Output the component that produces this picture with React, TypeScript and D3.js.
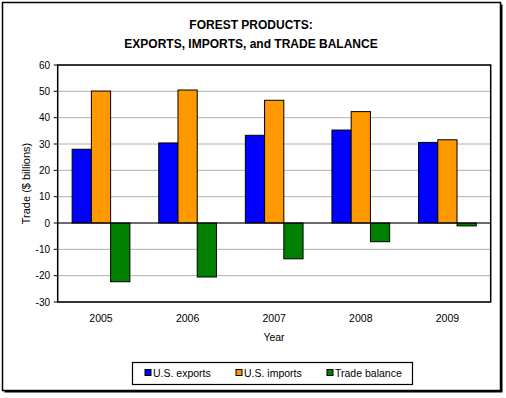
import React from "react";
import * as d3 from "d3";

const years = ["2005", "2006", "2007", "2008", "2009"];
const exportsVals = [28.0, 30.4, 33.3, 35.3, 30.6];
const importsVals = [50.1, 50.5, 46.6, 42.3, 31.6];
const balanceVals = [-22.3, -20.5, -13.6, -7.1, -1.1];
const seriesNames = ["U.S. exports", "U.S. imports", "Trade balance"];
const seriesColors = ["#0000ff", "#ff9900", "#008000"];
const yTicks = [60, 50, 40, 30, 20, 10, 0, -10, -20, -30];
const titleLines = ["FOREST PRODUCTS:", "EXPORTS, IMPORTS, and TRADE BALANCE"];

export default function App() {
  const W = 506, H = 398;
  const left = 57.7, right = 490.7, top = 65, bottom = 302;
  const series = [exportsVals, importsVals, balanceVals];
  const x = d3.scaleBand<string>().domain(years).range([left, right]).paddingInner(0).paddingOuter(0);
  const y = d3.scaleLinear().domain([-30, 60]).range([bottom, top]);
  const bw = x.bandwidth() / 4.5;
  const font = "'Liberation Sans', Arial, sans-serif";
  const legendX = [145, 236, 327];
  return (
    <div style={{ position: "absolute", left: 0, top: 0 }}>
      <svg width={W} height={H} style={{ display: "block" }} fontFamily={font}>
        <rect x={0} y={0} width={W} height={H} fill="#fff" />
        {/* outer frame with shadow */}
        <rect x={4.5} y={4.5} width={498} height={388} fill="#000" />
        <rect x={2.5} y={2.5} width={498} height={388} fill="#fff" stroke="#000" strokeWidth={1.5} />
        {titleLines.map((t, i) => (
          <text key={i} x={251} y={29 + i * 19} textAnchor="middle" fontSize={12} fontWeight="bold">{t}</text>
        ))}
        {/* gridlines */}
        {yTicks.map((t) => (
          <line key={t} x1={left} x2={right} y1={y(t)} y2={y(t)} stroke="#b0b0b0" strokeWidth={1} />
        ))}
        {/* bars */}
        {series.map((vals, si) =>
          vals.map((v, i) => {
            const bx = (x(years[i]) as number) + 0.75 * bw + si * bw;
            const y0 = y(Math.max(0, v));
            const h = Math.abs(y(v) - y(0));
            return (
              <rect key={`${si}-${i}`} x={bx} y={y0} width={bw} height={h}
                fill={seriesColors[si]} stroke="#000" strokeWidth={1} />
            );
          })
        )}
        {/* zero axis line */}
        <line x1={left} x2={right} y1={y(0)} y2={y(0)} stroke="#000" strokeWidth={1} />
        {/* plot border */}
        <rect x={left} y={top} width={right - left} height={bottom - top} fill="none" stroke="#000" strokeWidth={1.5} />
        {/* y ticks */}
        {yTicks.map((t) => (
          <g key={t}>
            <line x1={left - 4} x2={left} y1={y(t)} y2={y(t)} stroke="#000" />
            <text x={50} y={y(t) + 3.5} textAnchor="end" fontSize={10}>{t}</text>
          </g>
        ))}
        {/* x labels */}
        {years.map((yr) => (
          <text key={yr} x={(x(yr) as number) + x.bandwidth() / 2} y={322} textAnchor="middle" fontSize={10.5}>{yr}</text>
        ))}
        <text x={274} y={341} textAnchor="middle" fontSize={10.5}>Year</text>
        <text transform={`translate(30,${(top + bottom) / 2}) rotate(-90)`} textAnchor="middle" fontSize={11}>Trade ($ billions)</text>
        {/* legend */}
        <rect x={132.5} y={362.5} width={280} height={22} fill="#fff" stroke="#000" strokeWidth={1.2} />
        {seriesNames.map((n, i) => (
          <g key={n}>
            <rect x={legendX[i]} y={369.5} width={6} height={6} fill={seriesColors[i]} stroke="#000" strokeWidth={1} />
            <text x={legendX[i] + 8} y={377} fontSize={10.5}>{n}</text>
          </g>
        ))}
      </svg>
    </div>
  );
}
